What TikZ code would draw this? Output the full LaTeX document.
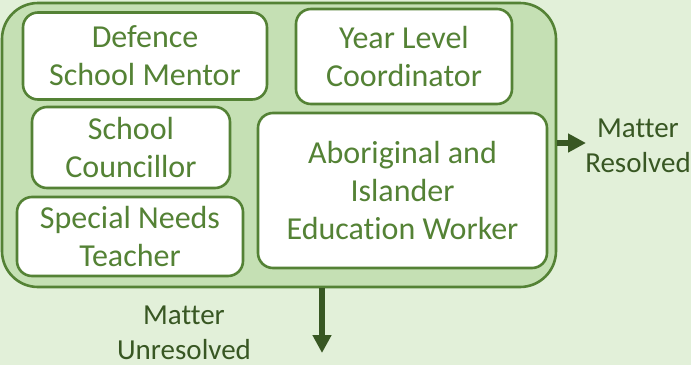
\documentclass[tikz,border=0pt]{standalone}
\usepackage{fontspec}
\setmainfont{Carlito}[Ligatures=NoCommon]
\usetikzlibrary{arrows.meta}
\definecolor{bgc}{HTML}{E2F0D9}
\definecolor{outerfill}{HTML}{C5E0B4}
\definecolor{gline}{HTML}{548235}
\definecolor{dgreen}{HTML}{385723}
\tikzset{
  rolebox/.style={draw=gline, line width=2.6pt, fill=white, rounded corners=15pt,
    text=gline, align=center, inner sep=0pt,
    font=\fontsize{32}{38}\selectfont},
  outerbox/.style={draw=gline, line width=2.6pt, fill=outerfill, rounded corners=36pt, inner sep=0pt},
  outlabel/.style={text=dgreen, align=center, inner sep=0pt, font=\fontsize{29}{35}\selectfont},
  flowarrow/.style={draw=dgreen, line width=5.5pt, -{Triangle[length=18pt,width=18pt]}}
}
\begin{document}
\begin{tikzpicture}[x=1pt,y=-1pt]
\fill[bgc] (0,0) rectangle (691,365);
\useasboundingbox (0,0) rectangle (691,365);
\node[outerbox, minimum width=554pt, minimum height=284pt] (outer) at (279,145) {};
\node[rolebox, minimum width=244pt, minimum height=87pt] (dsm) at (145,56) {Defence\\School Mentor};
\node[rolebox, minimum width=216pt, minimum height=95pt] (ylc) at (404,56.5) {Year Level\\Coordinator};
\node[rolebox, minimum width=198pt, minimum height=81pt] (sc) at (131,147.5) {School\\Councillor};
\node[rolebox, minimum width=226pt, minimum height=79pt] (snt) at (130,236.5) {Special Needs\\Teacher};
\node[rolebox, minimum width=289pt, minimum height=155pt] (aiew) at (402.5,190.5) {Aboriginal and\\Islander\\Education Worker};
\node[outlabel] (res) at (638,146) {Matter\\Resolved};
\node[outlabel] (unres) at (184,332.5) {Matter\\Unresolved};
\coordinate (rtip) at (586,143);
\coordinate (utip) at (322,353);
\draw[flowarrow] (outer.east |- rtip) -- (rtip);
\draw[flowarrow] (outer.south -| utip) -- (utip);
\end{tikzpicture}
\end{document}
